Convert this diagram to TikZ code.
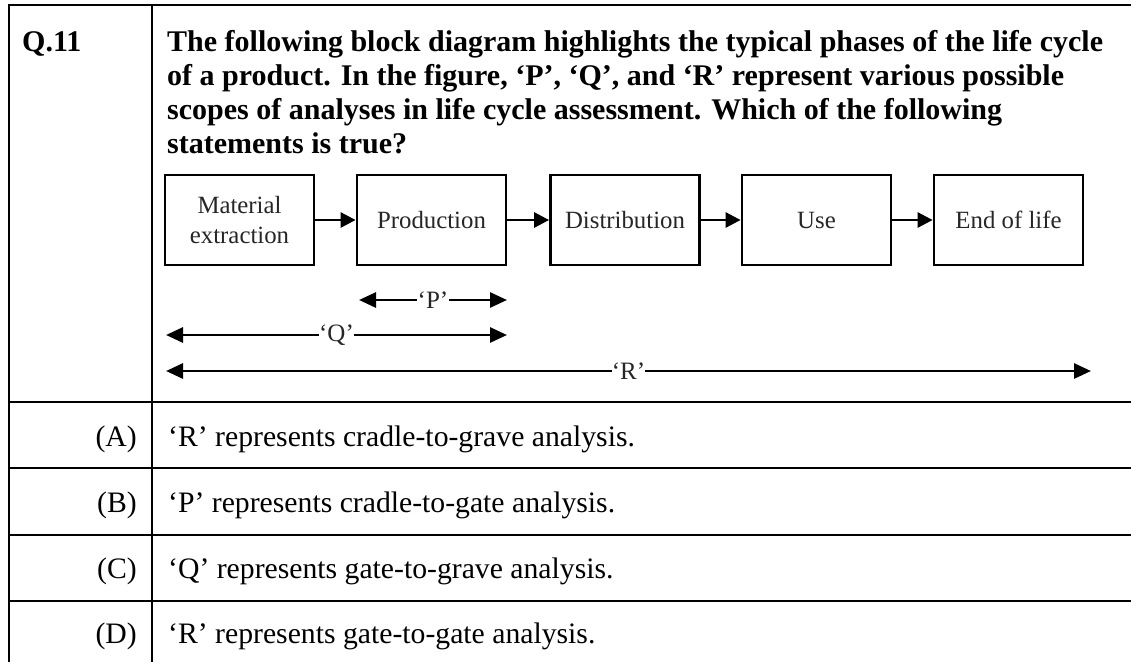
\documentclass[tikz,border=0pt]{standalone}
\usepackage{fontspec}
\setmainfont{Liberation Serif}
\usetikzlibrary{arrows.meta}
\begin{document}
\begin{tikzpicture}[x=1pt,y=-1pt,
  rule/.style={line width=2.8pt, black},
  stage/.style={draw, line width=2.8pt, minimum width=149pt, minimum height=90pt, inner sep=0pt, align=center, font=\fontsize{24.8}{30}\selectfont, text=black!85},
  flow/.style={line width=2.8pt, -{Triangle[length=15pt,width=15pt]}},
  span/.style={line width=2.8pt, {Triangle[length=17pt,width=15pt]}-{Triangle[length=17pt,width=15pt]}},
  spanlabel/.style={fill=white, inner sep=0.3pt, font=\fontsize{25}{30}\selectfont, text=black!85},
  head/.style={anchor=base west, inner sep=0pt, font=\fontsize{30}{34}\selectfont\bfseries},
  opt/.style={anchor=base west, inner sep=0pt, font=\fontsize{29.7}{34}\selectfont},
  optlabel/.style={anchor=base east, inner sep=0pt, font=\fontsize{29.7}{34}\selectfont}]
\useasboundingbox[fill=white] (0,0) rectangle (1131,662);

% table rules
\draw[rule] (9,662) -- (9,5) -- (1131,5);
\draw[rule] (152,5) -- (152,662);
\foreach \yy in {402,468,535,601} \draw[rule] (9,\yy) -- (1131,\yy);

% question header
\node[head] (qn) at (22,51) {Q.11};
\node[head] (h1) at (167,51) {The following block diagram highlights the typical phases of the life cycle};
\node[head] (h2) at (167,85) {of a product. In the figure, ‘P’, ‘Q’, and ‘R’ represent various possible};
\node[head] (h3) at (167,119) {scopes of analyses in life cycle assessment. Which of the following};
\node[head] (h4) at (167,153) {statements is true?};

% block diagram
\node[stage] (b1) at (239.5,220) {Material\\extraction};
\node[stage] (b2) at (431.5,220) {Production};
\node[stage] (b3) at (625,220) {Distribution};
\node[stage] (b4) at (816.5,220) {Use};
\node[stage] (b5) at (1008.5,220) {End of life};
\draw[flow] (b1) -- (b2);
\draw[flow] (b2) -- (b3);
\draw[flow] (b3) -- (b4);
\draw[flow] (b4) -- (b5);

% scope arrows
\coordinate (pL) at (359,300);
\coordinate (pR) at (507,300);
\coordinate (qL) at (166,335);
\coordinate (qR) at (507,335);
\coordinate (rL) at (166,371);
\coordinate (rR) at (1091,371);
\draw[span] (pL) -- node[spanlabel] (pl) {‘P’} (pR);
\draw[span] (qL) -- node[spanlabel] (ql) {‘Q’} (qR);
\draw[span] (rL) -- node[spanlabel] (rl) {‘R’} (rR);

% options
\node[optlabel] (la) at (137,446) {(A)};
\node[opt] (oa) at (168,446) {‘R’ represents cradle-to-grave analysis.};
\node[optlabel] (lb) at (137,512) {(B)};
\node[opt] (ob) at (168,512) {‘P’ represents cradle-to-gate analysis.};
\node[optlabel] (lc) at (137,578) {(C)};
\node[opt] (oc) at (168,578) {‘Q’ represents gate-to-grave analysis.};
\node[optlabel] (ld) at (137,643) {(D)};
\node[opt] (od) at (168,643) {‘R’ represents gate-to-gate analysis.};
\end{tikzpicture}
\end{document}
